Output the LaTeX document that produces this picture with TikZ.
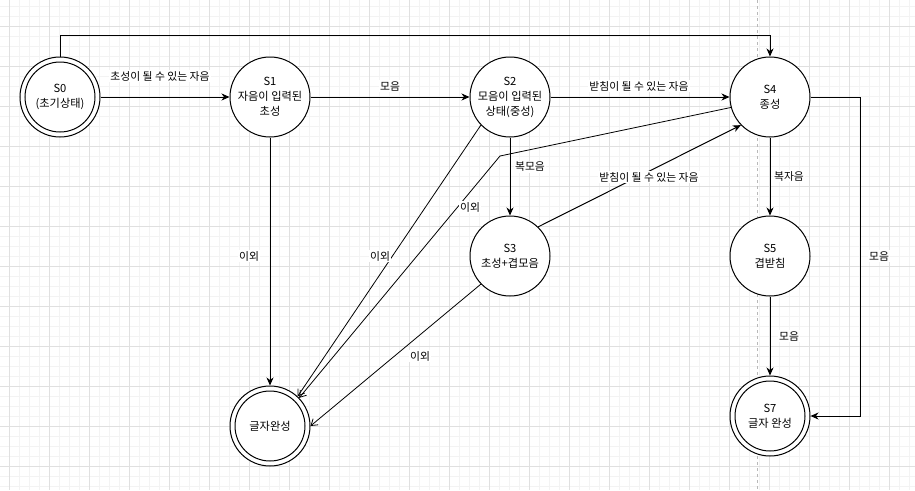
\documentclass[tikz,border=0pt]{standalone}
\usepackage{fontspec}
\setmainfont{Noto Sans CJK KR}
\usetikzlibrary{arrows.meta,calc}
\definecolor{gridminor}{RGB}{243,243,243}
\definecolor{gridmajor}{RGB}{224,224,224}
\definecolor{pagebreak}{RGB}{185,185,185}
\begin{document}
\begin{tikzpicture}[x=1pt,y=-1pt,
  state/.style={circle,draw,line width=1pt,minimum size=80pt,inner sep=0pt,align=center,fill=white,
    font=\fontsize{11.2}{15}\selectfont},
  lbl/.style={font=\fontsize{10.8}{12}\selectfont,fill=white,inner sep=1pt},
  arr/.style={line width=1pt,-{Stealth[length=8pt,width=7pt,inset=2.5pt]}},
  oarr/.style={line width=0.8pt,-{Straight Barb[length=6pt,width=8pt]}}]
\fill[white] (0,0) rectangle (915,490);
\useasboundingbox (0,0) rectangle (915,490);
% grid
\foreach \x in {-0.7,9.3,...,915} \draw[gridminor,line width=0.7pt] (\x,0) -- (\x,490);
\foreach \y in {6.5,16.5,...,490} \draw[gridminor,line width=0.7pt] (0,\y) -- (915,\y);
\foreach \x in {9.3,49.3,...,915} \draw[gridmajor,line width=0.8pt] (\x,0) -- (\x,490);
\foreach \y in {26.5,66.5,...,490} \draw[gridmajor,line width=0.8pt] (0,\y) -- (915,\y);
\draw[pagebreak,dash pattern=on 3pt off 3pt,line width=0.7pt] (757,0) -- (757,490);
% states
\node[state] (s0) at (60,97) {S0\\(초기상태)};
\draw[line width=1pt] (s0.center) circle[radius=35pt];
\node[state] (s1) at (270,97) {S1\\자음이 입력된\\초성};
\node[state] (s2) at (510,97) {S2\\모음이 입력된\\상태(중성)};
\node[state] (s4) at (770,97) {S4\\종성};
\node[state] (s3) at (510,256) {S3\\초성+겹모음};
\node[state] (s5) at (770,256) {S5\\겹받침};
\node[state] (f) at (270,426) {글자완성};
\draw[line width=1pt] (f.center) circle[radius=35pt];
\node[state] (s7) at (770,416) {S7\\글자 완성};
\draw[line width=1pt] (s7.center) circle[radius=35pt];
% edges
\draw[arr] (s0.north) -- ++(0,-21) -| (s4.north);
\draw[arr] (s0.east) -- (s1.west);
\draw[arr] (s1.east) -- (s2.west);
\draw[arr] (s2.east) -- (s4.west);
\draw[arr] (s4.east) -- ++(50,0) |- (s7.east);
\draw[arr] (s4) -- (s5);
\draw[arr] (s5) -- (s7);
\draw[arr] (s2) -- (s3);
\draw[arr] (s1) -- (f);
\draw[arr] (s3.46) -- (s4.224);
\coordinate (bend) at (500,156);
\draw[oarr] (s2.224) -- (f.47);
\draw[oarr] (s4.195) -- (bend) -- (f.44);
\draw[oarr] (s3.224) -- (f.east);
% labels
\node[lbl] (l1) at (160,76) {초성이 될 수 있는 자음};
\node[lbl] (l2) at (390,86) {모음};
\node[lbl] (l3) at (639,86) {받침이 될 수 있는 자음};
\node[lbl] (l4) at (530,167) {복모음};
\node[lbl] (l5) at (249,256) {이외};
\node[lbl] (l6) at (380,256) {이외};
\node[lbl] (l7) at (470,207) {이외};
\node[lbl] (l8) at (649,177) {받침이 될 수 있는 자음};
\node[lbl] (l9) at (420,356) {이외};
\node[lbl] (l10) at (789,176) {복자음};
\node[lbl] (l11) at (879,256) {모음};
\node[lbl] (l12) at (789,336) {모음};
\end{tikzpicture}
\end{document}
